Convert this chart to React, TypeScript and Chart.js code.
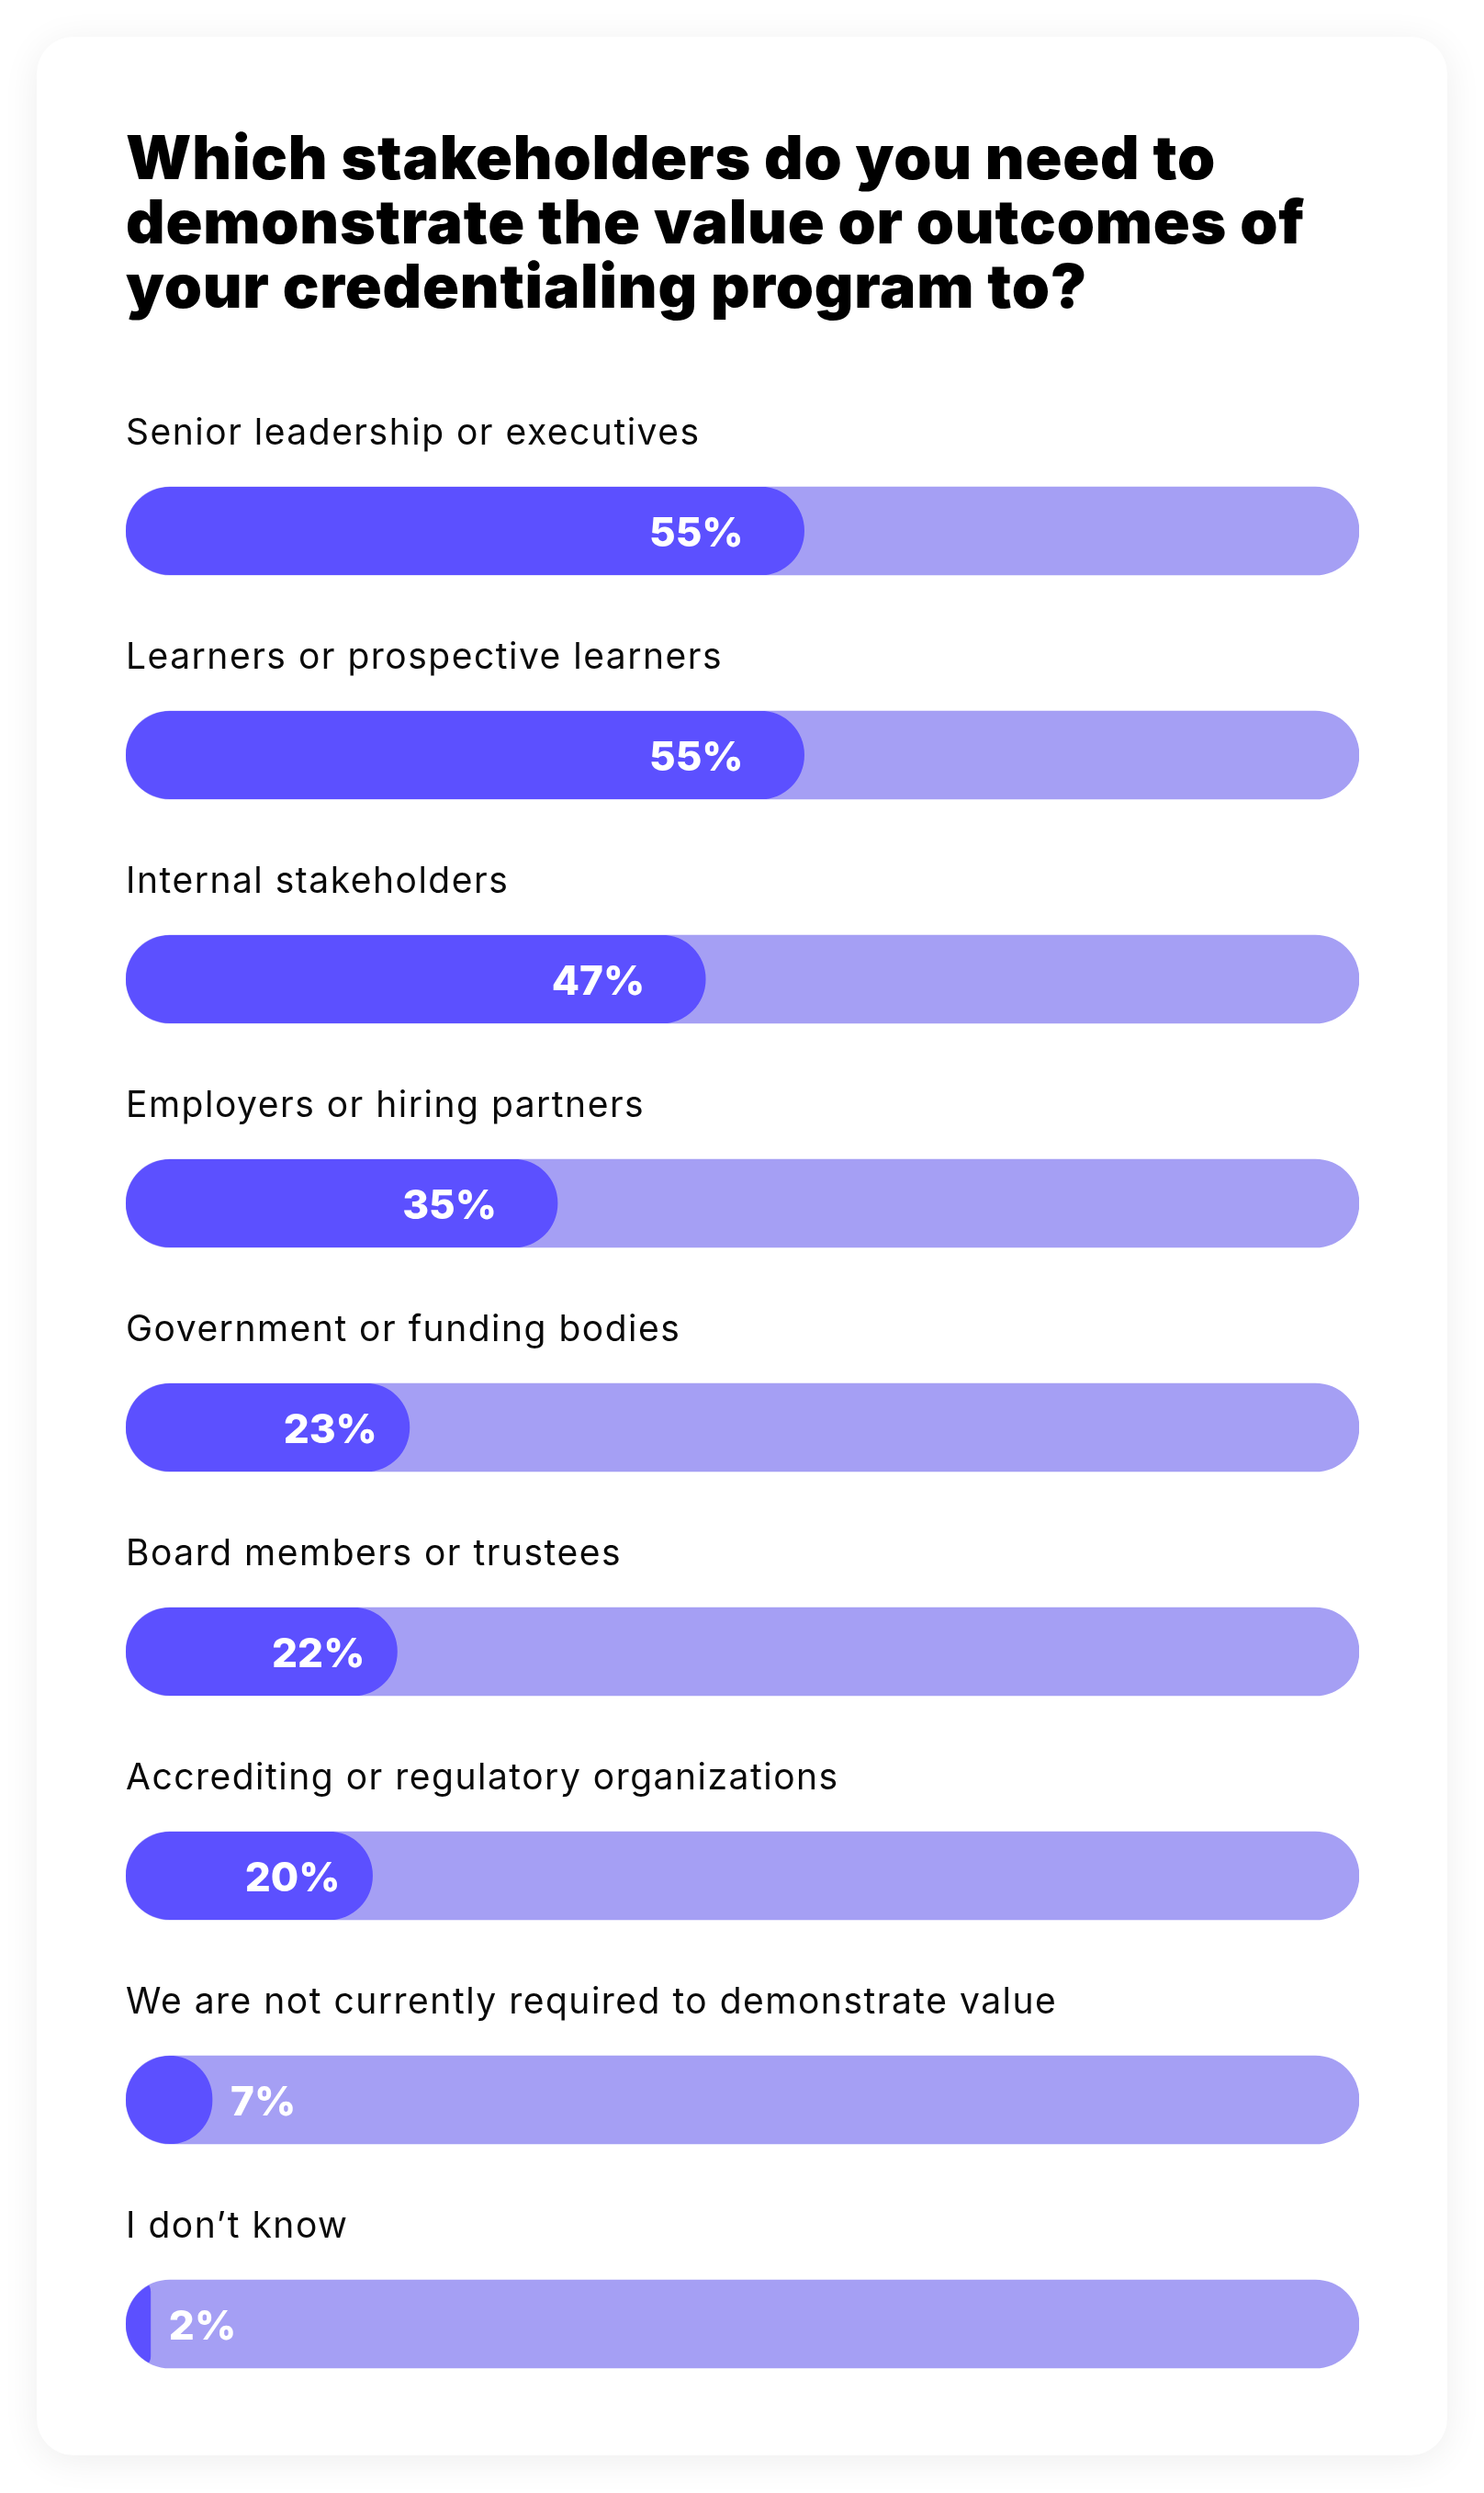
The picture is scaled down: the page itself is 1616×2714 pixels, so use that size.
import { useEffect, useRef } from "react";
import { Chart, registerables } from "chart.js";

Chart.register(...registerables);

// survey answers, top to bottom
const categories = [
  "Senior leadership or executives",
  "Learners or prospective learners",
  "Internal stakeholders",
  "Employers or hiring partners",
  "Government or funding bodies",
  "Board members or trustees",
  "Accrediting or regulatory organizations",
  "We are not currently required to demonstrate value",
  "I don\u2019t know",
];
const shares = [55, 55, 47, 35, 23, 22, 20, 7, 2];
const trackValues = [100, 100, 100, 100, 100, 100, 100, 100, 100];

const titleLines = [
  "Which stakeholders do you need to",
  "demonstrate the value or outcomes of",
  "your credentialing program to?",
];

const DARK = "#5c50ff";
const LIGHT = "#a59ff4";
const BAR_H = 96;

const barTextPlugin = {
  id: "barText",
  beforeDatasetDraw(chart: any, args: any) {
    if (args.index !== 0) return;
    // keep the filled part inside the rounded track
    const ctx = chart.ctx;
    const track = chart.getDatasetMeta(1);
    ctx.save();
    ctx.beginPath();
    track.data.forEach((el: any) => {
      const p = el.getProps(["x", "y", "base", "height"], true);
      ctx.roundRect(p.base, p.y - p.height / 2, p.x - p.base, p.height, p.height / 2);
    });
    ctx.clip();
  },
  afterDatasetDraw(chart: any, args: any) {
    if (args.index !== 0) return;
    chart.ctx.restore();
  },
  afterDatasetsDraw(chart: any) {
    const ctx = chart.ctx;
    const meta = chart.getDatasetMeta(0);
    ctx.save();
    meta.data.forEach((el: any, i: number) => {
      const p = el.getProps(["x", "y", "base", "height"], true);
      // category label above the bar
      ctx.font = "400 39px Inter";
      ctx.letterSpacing = "1.5px";
      ctx.fillStyle = "#0a0a0a";
      ctx.textAlign = "left";
      ctx.textBaseline = "alphabetic";
      ctx.fillText(categories[i], chart.chartArea.left, p.y - p.height / 2 - 46);

      // percentage
      const v = shares[i];
      ctx.font = "800 44px Inter";
      ctx.letterSpacing = "0px";
      ctx.fillStyle = "#ffffff";
      if (v >= 30) {
        ctx.textAlign = "right";
        ctx.fillText(v + "%", p.x - 66, p.y + 17);
      } else if (v >= 15) {
        ctx.textAlign = "right";
        ctx.fillText(v + "%", p.x - 35, p.y + 17);
      } else {
        ctx.textAlign = "left";
        ctx.fillText(v + "%", p.x + 20, p.y + 17);
      }
    });
    ctx.restore();
  },
};

function StakeholderBars() {
  const chartRef = useRef<HTMLCanvasElement>(null);
  const chartInstance = useRef<Chart | null>(null);

  useEffect(() => {
    if (!chartRef.current) return;
    if (chartInstance.current) chartInstance.current.destroy();

    const ctx = chartRef.current.getContext("2d");
    if (!ctx) return;

    chartInstance.current = new Chart(ctx, {
      type: "bar",
      data: {
        labels: categories,
        datasets: [
          {
            label: "Share",
            data: shares,
            backgroundColor: DARK,
            borderRadius: 999,
            borderSkipped: false,
            barThickness: BAR_H,
            grouped: false,
            order: 0,
          },
          {
            label: "Track",
            data: trackValues,
            backgroundColor: LIGHT,
            borderRadius: 999,
            borderSkipped: false,
            barThickness: BAR_H,
            grouped: false,
            order: 1,
          },
        ],
      },
      options: {
        indexAxis: "y",
        animation: false,
        responsive: true,
        maintainAspectRatio: false,
        layout: { padding: { top: 36, bottom: 20, left: 0, right: 0 } },
        plugins: {
          legend: { display: false },
          tooltip: { enabled: false },
        },
        scales: {
          x: { min: 0, max: 100, display: false },
          y: { display: false },
        },
      },
      plugins: [barTextPlugin],
    });

    return () => {
      if (chartInstance.current) {
        chartInstance.current.destroy();
        chartInstance.current = null;
      }
    };
  }, []);

  return (
    <div style={{ position: "absolute", left: 97, top: 380, width: 1343, height: 2252 }}>
      <canvas ref={chartRef} />
    </div>
  );
}

export default function App() {
  return (
    <div
      style={{
        position: "absolute",
        left: 0,
        top: 0,
        width: 1616,
        height: 2714,
        background: "#ffffff",
        fontFamily: "Inter, sans-serif",
      }}
    >
      <div
        style={{
          position: "absolute",
          left: 40,
          top: 40,
          width: 1536,
          height: 2633,
          background: "#ffffff",
          borderRadius: 40,
          boxShadow: "0 6px 40px rgba(0,0,0,0.07)",
        }}
      >
        <div
          style={{
            position: "absolute",
            left: 97,
            top: 96,
            fontSize: 66,
            lineHeight: "70px",
            fontWeight: 900,
            letterSpacing: "0.8px",
            color: "#000",
            whiteSpace: "nowrap",
          }}
        >
          {titleLines.map((line) => (
            <div key={line}>{line}</div>
          ))}
        </div>
        <StakeholderBars />
      </div>
    </div>
  );
}
